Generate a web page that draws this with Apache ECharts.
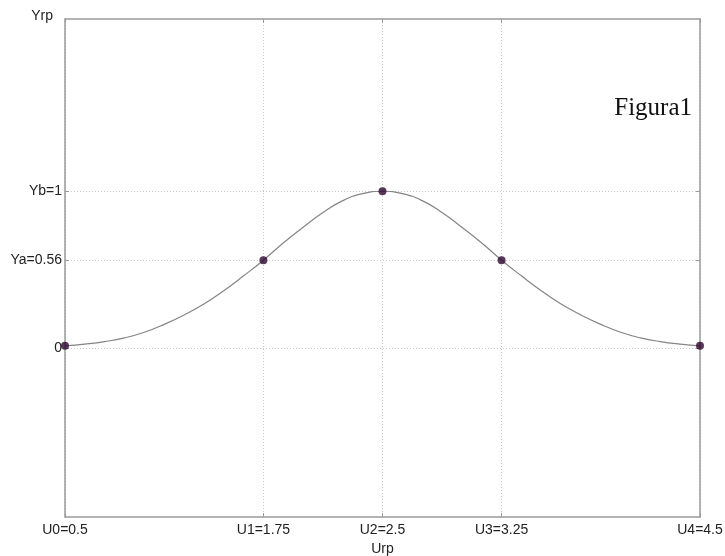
<!DOCTYPE html>
<html>
<head>
<meta charset="utf-8">
<script src="https://cdn.jsdelivr.net/npm/echarts@6/dist/echarts.min.js"></script>
<style>
  html, body { margin: 0; padding: 0; background: #fff; }
  #chart { width: 725px; height: 556px; }
</style>
</head>
<body>
<div id="chart"></div>
<script>
// curve
const curveX = [0.5, 0.625, 0.75, 0.875, 1.0, 1.125, 1.25, 1.375, 1.5, 1.625, 1.75, 1.875, 2.0, 2.125, 2.25, 2.375, 2.5,
  2.625, 2.75, 2.875, 3.0, 3.125, 3.25, 3.375, 3.5, 3.625, 3.75, 3.875, 4.0, 4.125, 4.25, 4.375, 4.5];
const curveY = [0.013, 0.024, 0.04, 0.064, 0.1, 0.15, 0.21, 0.28, 0.365, 0.46, 0.56, 0.67, 0.77, 0.865, 0.94, 0.985, 1.0,
  0.985, 0.94, 0.865, 0.77, 0.67, 0.56, 0.46, 0.365, 0.28, 0.21, 0.15, 0.1, 0.064, 0.04, 0.024, 0.013];

// marked points
const pointX = [0.5, 1.75, 2.5, 3.25, 4.5];
const pointY = [0.013, 0.56, 1.0, 0.56, 0.013];

// tick labels
const xTickValues = [0.5, 1.75, 2.5, 3.25, 4.5];
const xTickLabels = ['U0=0.5', 'U1=1.75', 'U2=2.5', 'U3=3.25', 'U4=4.5'];
const yTickValues = [0, 0.56, 1];
const yTickLabels = ['0', 'Ya=0.56', 'Yb=1'];

const chart = echarts.init(document.getElementById('chart'));

const frameColor = '#9a9a9a';
const gridLine = { show: true, lineStyle: { color: '#c8c8c8', type: [1, 2], width: 1 } };
const labelFont = { fontFamily: 'Liberation Sans, Arial', fontSize: 14, color: '#222' };

function xAxisCfg(pos, withLabels) {
  return {
    type: 'value', position: pos, min: 0.5, max: 4.5,
    axisLine: { show: true, onZero: false, lineStyle: { color: frameColor, width: 1.5 } },
    axisTick: { show: true, inside: true, length: 4, customValues: xTickValues, lineStyle: { color: frameColor } },
    axisLabel: {
      show: withLabels, customValues: xTickValues, margin: 6, ...labelFont,
      formatter: v => xTickLabels[xTickValues.indexOf(v)] || ''
    },
    splitLine: withLabels ? gridLine : { show: false }
  };
}
function yAxisCfg(pos, withLabels) {
  return {
    type: 'value', position: pos, min: -1.08, max: 2.1,
    axisLine: { show: true, onZero: false, lineStyle: { color: frameColor, width: 1.5 } },
    axisTick: { show: true, inside: true, length: 4, customValues: yTickValues, lineStyle: { color: frameColor } },
    axisLabel: {
      show: withLabels, customValues: yTickValues, margin: 3, ...labelFont,
      formatter: v => yTickLabels[yTickValues.indexOf(v)] || ''
    },
    splitLine: withLabels ? gridLine : { show: false }
  };
}

const xBottom = xAxisCfg('bottom', true);
xBottom.name = 'Urp';
xBottom.nameLocation = 'middle';
xBottom.nameGap = 21;
xBottom.nameTextStyle = { ...labelFont };
const yLeft = yAxisCfg('left', true);
yLeft.name = 'Yrp';
yLeft.nameLocation = 'end';
yLeft.nameGap = 3;
yLeft.nameTextStyle = { ...labelFont, align: 'right', verticalAlign: 'middle', padding: [0, 12, 0, 0] };

chart.setOption({
  animation: false,
  backgroundColor: '#fff',
  title: {
    text: 'Figura1', right: 28, top: 91,
    textStyle: { fontFamily: 'Liberation Serif, Times New Roman', fontSize: 25, fontWeight: 'normal', color: '#111' }
  },
  grid: { left: 65, right: 25, top: 19, bottom: 39, containLabel: false, outerBoundsMode: 'none' },
  xAxis: [xBottom, xAxisCfg('top', false)],
  yAxis: [yLeft, yAxisCfg('right', false)],
  series: [
    {
      type: 'line', smooth: 0.5, showSymbol: false, xAxisIndex: 0, yAxisIndex: 0,
      lineStyle: { color: '#858585', width: 1.2 },
      data: curveX.map((x, i) => [x, curveY[i]]),
      z: 2
    },
    {
      type: 'scatter', symbolSize: 8, xAxisIndex: 0, yAxisIndex: 0,
      itemStyle: { color: '#2e0630' },
      data: pointX.map((x, i) => [x, pointY[i]]),
      z: 3
    }
  ]
});
</script>
</body>
</html>
